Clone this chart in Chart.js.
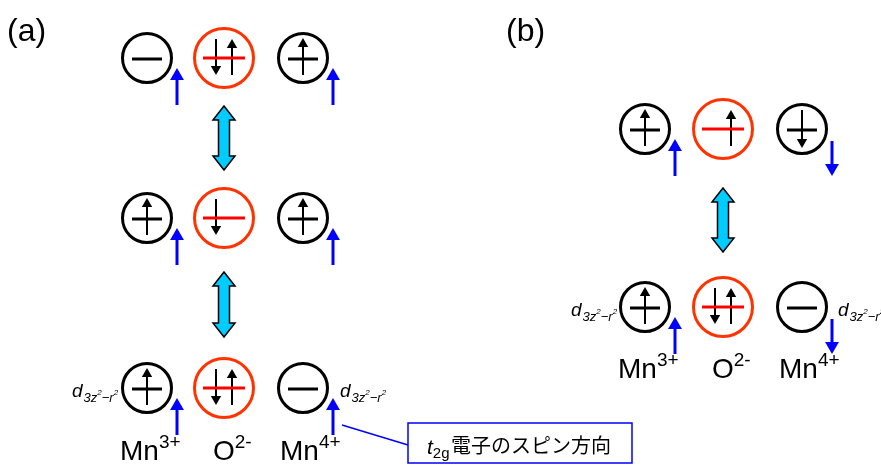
<!DOCTYPE html>
<html lang="ja">
<head>
<meta charset="UTF-8">
<title>Mn3+ / O2- / Mn4+ spin diagram</title>
<script src="https://cdn.jsdelivr.net/npm/chart.js"></script>
<style>
  html, body { margin: 0; padding: 0; background: #fff; }
  .wrap { width: 881px; height: 466px; position: relative; }
</style>
</head>
<body>
<div class="wrap"><canvas id="diagram"></canvas></div>
<script>
// site centres (panel a: 3 configurations, panel b: 2)
const aCols = [147, 224, 303];
const aRows = [58, 218, 388];
const bCols = [645, 723, 802];
const bRows = [129, 307];

// electrons inside each site: u = up, d = down, '' = none
const aStates = [['', 'ud', 'u'], ['u', 'd', 'u'], ['u', 'ud', '']];
const bStates = [['u', 'u', 'd'], ['u', 'ud', '']];

// t2g spin beside the two Mn sites of each row
const aSpins = [['u', 'u'], ['u', 'u'], ['u', 'u']];
const bSpins = [['u', 'd'], ['u', 'd']];

// double arrows between configurations
const swapX = [224, 224, 723];
const swapTop = [106, 272, 188];
const swapBottom = [170, 337, 252];

const panelLabels = ['(a)', '(b)'];
const ionNames = [['Mn', '3+'], ['O', '2-'], ['Mn', '4+']];
const calloutText = '電子のスピン方向';

const blackSites = [], redSites = [];
const blackBars = [], redBars = [];
const shafts = [], heads = [], headRot = [];
const blueShafts = [], blueHeads = [], blueRot = [];

function addArrow(x, yFrom, yTo, shaftList, headList, rotList, r) {
    const up = yTo < yFrom;
    const hy = up ? yTo + r : yTo - r;
    shaftList.push({ x: x, y: yFrom }, { x: x, y: hy }, { x: x, y: null });
    headList.push({ x: x, y: hy });
    rotList.push(up ? 0 : 180);
}

function buildPanel(cols, rows, states, spins) {
    rows.forEach(function (cy, i) {
        cols.forEach(function (cx, j) {
            const s = states[i][j];
            if (j === 1) {
                redSites.push({ x: cx, y: cy });
                redBars.push({ x: cx - 21, y: cy }, { x: cx + 21, y: cy }, { x: cx, y: null });
                if (s.includes('d')) addArrow(cx - 8, cy - 19, cy + 17, shafts, heads, headRot, 6);
                if (s.includes('u')) addArrow(cx + 8, cy + 17, cy - 19, shafts, heads, headRot, 6);
            } else {
                blackSites.push({ x: cx, y: cy });
                blackBars.push({ x: cx - 15, y: cy + 1 }, { x: cx + 15, y: cy + 1 }, { x: cx, y: null });
                if (s === 'u') addArrow(cx, cy + 17, cy - 20, shafts, heads, headRot, 6);
                if (s === 'd') addArrow(cx, cy - 19, cy + 19, shafts, heads, headRot, 6);
                const sp = spins[i][j === 0 ? 0 : 1];
                const bx = cx + 30;
                if (sp === 'u') addArrow(bx, cy + 47, cy + 10, blueShafts, blueHeads, blueRot, 8);
                else addArrow(bx, cy + 12, cy + 47, blueShafts, blueHeads, blueRot, 8);
            }
        });
    });
}
buildPanel(aCols, aRows, aStates, aSpins);
buildPanel(bCols, bRows, bStates, bSpins);

const sans = '"Liberation Sans", Arial, sans-serif';

function drawRuns(ctx, x, y, runs) {
    let cx = x;
    runs.forEach(function (r) {
        ctx.font = r[1];
        ctx.fillText(r[0], cx, y + r[2]);
        cx += ctx.measureText(r[0]).width + (r[3] || 0);
    });
}

const swapArrows = {
    id: 'swapArrows',
    afterDatasetsDraw(chart) {
        const { ctx, scales: { x, y } } = chart;
        ctx.save();
        swapX.forEach(function (v, i) {
            const px = x.getPixelForValue(v);
            const top = y.getPixelForValue(swapTop[i]);
            const bot = y.getPixelForValue(swapBottom[i]);
            const hw = 11, sw = 5.5, hh = 14;
            ctx.beginPath();
            ctx.moveTo(px, top);
            ctx.lineTo(px + hw, top + hh);
            ctx.lineTo(px + sw, top + hh);
            ctx.lineTo(px + sw, bot - hh);
            ctx.lineTo(px + hw, bot - hh);
            ctx.lineTo(px, bot);
            ctx.lineTo(px - hw, bot - hh);
            ctx.lineTo(px - sw, bot - hh);
            ctx.lineTo(px - sw, top + hh);
            ctx.lineTo(px - hw, top + hh);
            ctx.closePath();
            ctx.fillStyle = '#00ccff';
            ctx.fill();
            ctx.lineWidth = 1.5;
            ctx.strokeStyle = '#000';
            ctx.stroke();
        });
        ctx.restore();
    }
};

const textLabels = {
    id: 'textLabels',
    afterDatasetsDraw(chart) {
        const { ctx, scales: { x, y } } = chart;
        const X = v => x.getPixelForValue(v), Y = v => y.getPixelForValue(v);
        ctx.save();
        ctx.fillStyle = '#000';
        ctx.textBaseline = 'alphabetic';

        // panel letters
        ctx.font = '32px ' + sans;
        ctx.fillText(panelLabels[0], X(7), Y(41));
        ctx.fillText(panelLabels[1], X(506), Y(41));

        // ion names under the last row of each panel
        const offs = [-27, -11, -23];
        [[aCols, aRows[2] + 72], [bCols, bRows[1] + 71]].forEach(function (p) {
            p[0].forEach(function (cx, j) {
                drawRuns(ctx, X(cx + offs[j]), Y(p[1]), [
                    [ionNames[j][0], '28px ' + sans, 0],
                    [ionNames[j][1], '19px ' + sans, -12]
                ]);
            });
        });

        // d(3z^2-r^2) labels
        const orbX = [72, 340, 571, 838];
        const orbY = [397, 397, 316, 316];
        orbX.forEach(function (ox, k) {
            drawRuns(ctx, X(ox), Y(orbY[k]), [
                ['d', 'italic 19px ' + sans, 0, 1],
                ['3z', 'italic 13px ' + sans, 5],
                ['2', 'italic 8px ' + sans, -2],
                ['\u2212r', 'italic 13px ' + sans, 5],
                ['2', 'italic 8px ' + sans, -2]
            ]);
        });

        // callout
        ctx.strokeStyle = '#0000ff';
        ctx.lineWidth = 1.5;
        ctx.beginPath();
        ctx.moveTo(X(342), Y(425));
        ctx.lineTo(X(408), Y(445));
        ctx.stroke();
        ctx.fillStyle = '#fff';
        ctx.fillRect(X(408), Y(423), X(632) - X(408), Y(463) - Y(423));
        ctx.strokeRect(X(408), Y(423), X(632) - X(408), Y(463) - Y(423));
        ctx.fillStyle = '#000';
        drawRuns(ctx, X(427), Y(454), [
            ['t', 'italic 21px ' + sans, 0],
            ['2g', '15px ' + sans, 4]
        ]);
        ctx.font = '20px "Noto Sans CJK JP", sans-serif';
        ctx.fillText(calloutText, X(451), Y(453));
        ctx.restore();
    }
};

const lineSet = (data, color, width) => ({
    type: 'scatter', data: data, showLine: true, spanGaps: false,
    borderColor: color, borderWidth: width, pointRadius: 0, clip: false
});

new Chart(document.getElementById('diagram'), {
    type: 'scatter',
    data: {
        datasets: [
            lineSet(blackBars, '#000', 3),
            lineSet(redBars, '#ff0000', 3),
            lineSet(shafts, '#000', 2),
            {
                data: heads, pointStyle: 'triangle', pointRadius: 6, pointRotation: headRot,
                backgroundColor: '#000', borderWidth: 0, clip: false
            },
            lineSet(blueShafts, '#0000ff', 3),
            {
                data: blueHeads, pointStyle: 'triangle', pointRadius: 8, pointRotation: blueRot,
                backgroundColor: '#0000ff', borderWidth: 0, clip: false
            },
            {
                data: blackSites, pointStyle: 'circle', pointRadius: 24.5,
                backgroundColor: 'rgba(0,0,0,0)', borderColor: '#000', borderWidth: 3, clip: false
            },
            {
                data: redSites, pointStyle: 'circle', pointRadius: 29.5,
                backgroundColor: 'rgba(0,0,0,0)', borderColor: '#ff3300', borderWidth: 3, clip: false
            }
        ]
    },
    options: {
        responsive: true,
        maintainAspectRatio: false,
        animation: false,
        events: [],
        layout: { padding: 0, autoPadding: false },
        plugins: { legend: { display: false }, tooltip: { enabled: false } },
        scales: {
            x: { type: 'linear', min: 0, max: 881, display: false },
            y: { type: 'linear', min: 0, max: 466, reverse: true, display: false }
        }
    },
    plugins: [swapArrows, textLabels]
});
</script>
</body>
</html>
